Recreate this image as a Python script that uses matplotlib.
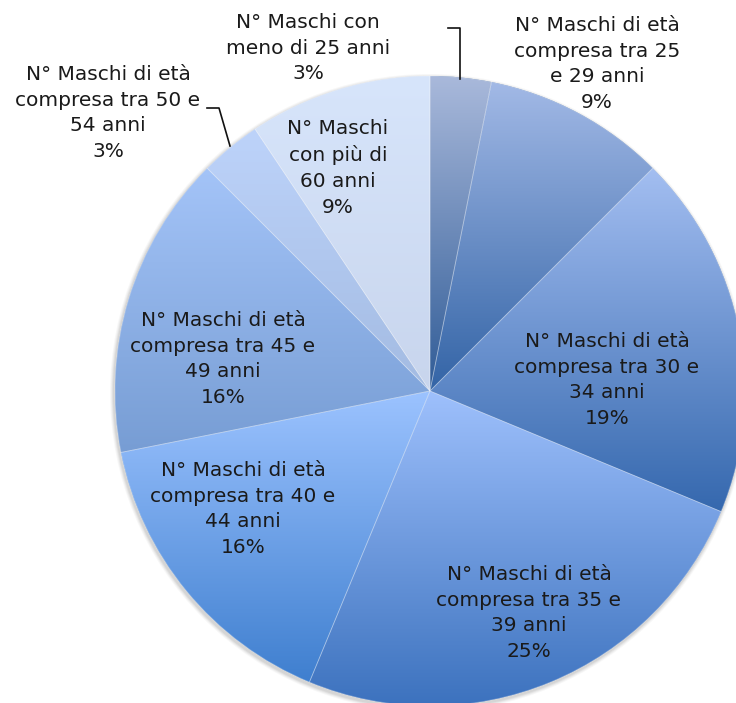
import matplotlib
matplotlib.use("Agg")
import matplotlib.pyplot as plt
import numpy as np
from matplotlib.colors import LinearSegmentedColormap
from matplotlib.patches import Circle, Wedge

categories = [
    "N° Maschi con\nmeno di 25 anni",
    "N° Maschi di età\ncompresa tra 25\ne 29 anni",
    "N° Maschi di età\ncompresa tra 30 e\n34 anni",
    "N° Maschi di età\ncompresa tra 35 e\n39 anni",
    "N° Maschi di età\ncompresa tra 40 e\n44 anni",
    "N° Maschi di età\ncompresa tra 45 e\n49 anni",
    "N° Maschi di età\ncompresa tra 50 e\n54 anni",
    "N° Maschi\ncon più di\n60 anni",
]
counts = [1, 3, 6, 8, 5, 5, 1, 3]

# gradient colours per wedge (top -> bottom)
top_colors = ["#a9b9db", "#a2b9e6", "#a3bef1", "#9ec0fc", "#9cc3ff", "#a4c4f8", "#bdd3fa", "#d7e5fb"]
bottom_colors = ["#2f5b96", "#3364a6", "#3568ae", "#3c72be", "#3f7fcf", "#779dd4", "#a3bbe2", "#c8d5ed"]

# label anchor positions in pixels (x, y from top)
label_pos = [(308, 48), (597, 64), (607, 380), (529, 613), (243, 509), (223, 359), (108, 113), (338, 168)]

W, H = 736, 703
CX, CY, R = 430, 391, 315


def main() -> None:
    fig = plt.figure(figsize=(W / 100, H / 100), dpi=100)
    ax = fig.add_axes([0, 0, 1, 1])

    # soft shadow under the pie
    for i, a in enumerate([0.05, 0.05, 0.04, 0.03]):
        ax.add_patch(Circle((CX - 1, H - CY - 2), R + 1 + i, color="#000000", alpha=a, lw=0, zorder=0))

    wedges, _ = ax.pie(
        counts,
        startangle=90,
        counterclock=False,
        center=(CX, H - CY),
        radius=R,
        wedgeprops=dict(linewidth=0),
    )

    grad = np.linspace(0, 1, 256).reshape(-1, 1)
    for w, c_top, c_bot in zip(wedges, top_colors, bottom_colors):
        w.set_facecolor(c_bot)
        w.set_zorder(1)
        ext = w.get_path().get_extents()
        cmap = LinearSegmentedColormap.from_list("g", [c_top, c_bot])
        im = ax.imshow(
            grad,
            cmap=cmap,
            extent=(ext.x0, ext.x1, ext.y0, ext.y1),
            origin="upper",
            aspect="auto",
            interpolation="bilinear",
            zorder=2,
        )
        im.set_clip_path(w)

    # faint seams between slices
    for w in wedges:
        ax.add_patch(Wedge(w.center, w.r, w.theta1, w.theta2,
                           facecolor="none", edgecolor=(1, 1, 1, 0.3), lw=0.6, zorder=3))

    total = sum(counts)
    for name, n, (px, py) in zip(categories, counts, label_pos):
        pct = round(n / total * 100)
        ax.text(px, H - py, f"{name}\n{pct}%", ha="center", va="center",
                fontsize=14.5, linespacing=1.45, color="#1a1a1a", zorder=5)

    # leader lines for the two thin slices
    ax.plot([448, 460, 460], [H - 28, H - 28, H - 79], color="#111111", lw=1.2, zorder=5)
    ax.plot([207, 219, 230], [H - 108, H - 108, H - 146], color="#111111", lw=1.2, zorder=5)

    ax.set_xlim(0, W)
    ax.set_ylim(0, H)
    ax.set_aspect("auto")
    ax.axis("off")
    fig.savefig("out.png", dpi=100, facecolor="white")
    plt.close(fig)


if __name__ == "__main__":
    main()
